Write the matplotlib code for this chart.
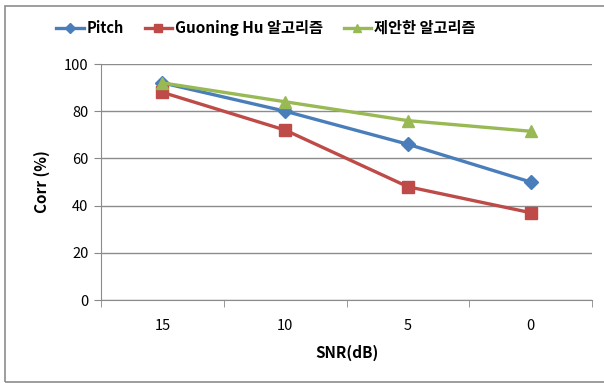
import matplotlib
matplotlib.use("Agg")
import matplotlib.pyplot as plt
from matplotlib.patches import Rectangle

plt.rcParams['font.family'] = ['Noto Sans CJK KR', 'DejaVu Sans']

snr_labels = ['15', '10', '5', '0']
pitch = [92, 80, 66, 50]
guoning = [88, 72, 48, 37]
proposed = [92, 84, 76, 71.5]

fig = plt.figure(figsize=(6.04, 3.83), dpi=100)
ax = fig.add_axes([101 / 604, 1 - 300 / 383, 491 / 604, 236 / 383])

x = range(len(snr_labels))
ax.plot(x, pitch, color='#4A7EBB', lw=2.4, marker='D', ms=7, label='Pitch')
ax.plot(x, guoning, color='#BE4B48', lw=2.4, marker='s', ms=8, label='Guoning Hu 알고리즘')
ax.plot(x, proposed, color='#98B954', lw=2.4, marker='^', ms=8, label='제안한 알고리즘')

ax.set_xlim(-0.5, 3.5)
ax.set_ylim(0, 100)
ax.set_yticks(range(0, 101, 20))
ax.set_xticks(list(x))
ax.set_xticklabels(snr_labels)
ax.set_xticks([-0.5, 0.5, 1.5, 2.5, 3.5], minor=True)
ax.tick_params(axis='x', which='major', length=0, pad=14, labelsize=10.5)
ax.tick_params(axis='x', which='minor', length=5, color='#888888', direction='out')
ax.tick_params(axis='y', length=5, color='#888888', labelsize=10.5, pad=4)
ax.grid(axis='y', color='#8c8c8c', lw=1)
ax.set_axisbelow(True)
for side in ['top', 'right']:
    ax.spines[side].set_visible(False)
for side in ['left', 'bottom']:
    ax.spines[side].set_color('#8c8c8c')

ax.set_xlabel('SNR(dB)', fontsize=11, fontweight='bold', labelpad=8)
ax.set_ylabel('Corr (%)', fontsize=11, fontweight='bold', labelpad=10)

leg = ax.legend(loc='center', bbox_to_anchor=(266 / 604, 1 - 28 / 383), bbox_transform=fig.transFigure,
                ncol=3, frameon=False, prop={'size': 10.5, 'weight': 'bold'}, markerscale=0.7,
                handlelength=1.9, handletextpad=0.2, columnspacing=1.4)
for t in leg.get_texts()[1:]:
    t.set_fontsize(11)

# chart frame, open on the right
fig.patches.append(Rectangle((5 / 604, 1 / 383), 1.05, 1 - 7 / 383, transform=fig.transFigure,
                             fill=False, edgecolor='#8c8c8c', lw=1.2))

fig.savefig('out.png', dpi=100)
